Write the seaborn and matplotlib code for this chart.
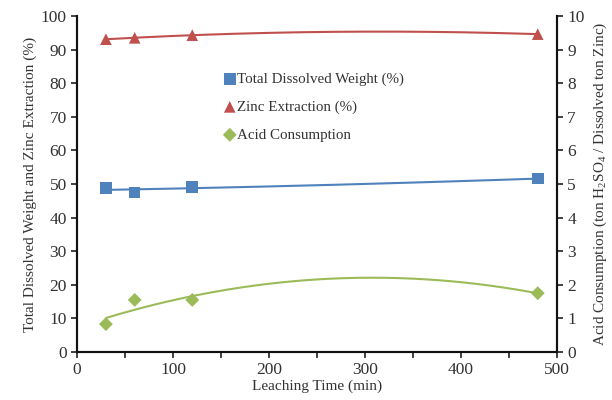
import numpy as np
import pandas as pd
import matplotlib
matplotlib.use("Agg")
import matplotlib.pyplot as plt
import seaborn as sns
from matplotlib.ticker import MultipleLocator

time_min = [30, 60, 120, 480]
dissolved_weight = [48.8, 47.5, 49.1, 51.6]
zinc_extraction = [93.1, 93.5, 94.3, 94.6]
acid_consumption = [0.83, 1.55, 1.55, 1.75]

sns.set_style("ticks")
plt.rcParams['font.family'] = ['Liberation Serif', 'DejaVu Serif']
plt.rcParams['mathtext.fontset'] = 'custom'
plt.rcParams['mathtext.rm'] = 'Liberation Serif'
plt.rcParams['mathtext.it'] = 'Liberation Serif:italic'

blue = '#4F81BD'
red = '#C0504D'
green = '#9BBB59'

df = pd.DataFrame({'t': time_min, 'w': dissolved_weight, 'z': zinc_extraction, 'a': acid_consumption})

fig = plt.figure(figsize=(6.12, 4.0), dpi=100)
ax = fig.add_axes([0.126, 0.12, 0.784, 0.84])
ax2 = ax.twinx()

def trend(x, y):
    c = np.polyfit(x, y, 2)
    xs = np.linspace(min(x), max(x), 200)
    return xs, np.polyval(c, xs)

xs, ys = trend(df.t, df.w)
sns.lineplot(x=xs, y=ys, ax=ax, color=blue, lw=1.5, legend=False)
xs, ys = trend(df.t, df.z)
sns.lineplot(x=xs, y=ys, ax=ax, color=red, lw=1.5, legend=False)
xs, ys = trend(df.t, df.a)
sns.lineplot(x=xs, y=ys, ax=ax2, color=green, lw=1.5, legend=False)

sns.scatterplot(data=df, x='t', y='w', ax=ax, marker='s', color=blue, s=70, edgecolor='none', label='Total Dissolved Weight (%)', legend=False)
sns.scatterplot(data=df, x='t', y='z', ax=ax, marker='^', color=red, s=70, edgecolor='none', label='Zinc Extraction (%)', legend=False)
sns.scatterplot(data=df, x='t', y='a', ax=ax2, marker='D', color=green, s=50, edgecolor='none', label='Acid Consumption', legend=False)

ax.set_xlim(0, 500)
ax.set_ylim(0, 100)
ax2.set_ylim(0, 10)
ax.xaxis.set_major_locator(MultipleLocator(100))
ax.xaxis.set_minor_locator(MultipleLocator(50))
ax.yaxis.set_major_locator(MultipleLocator(10))
ax2.yaxis.set_major_locator(MultipleLocator(1))

for a in (ax, ax2):
    a.tick_params(axis='both', which='both', direction='out', length=4, width=1.2, labelsize=12.5, colors='#222222', labelcolor='#333333')
    for s in a.spines.values():
        s.set_linewidth(1.5)
        s.set_color('#111111')
ax.spines['top'].set_visible(False)
ax2.spines['top'].set_visible(False)

ax.set_xlabel('Leaching Time (min)', fontsize=11, color='#333333', labelpad=1)
ax.set_ylabel('Total Dissolved Weight and Zinc Extraction (%)', fontsize=11, color='#333333', labelpad=3)
ax2.set_ylabel('Acid Consumption (ton H$_2$SO$_4$ / Dissolved ton Zinc)', fontsize=11, color='#333333', labelpad=5)

h1, l1 = ax.get_legend_handles_labels()
h2, l2 = ax2.get_legend_handles_labels()
leg = ax.legend(h1 + h2, l1 + l2, loc='upper left', bbox_to_anchor=(0.29, 0.85), frameon=False,
                fontsize=10.8, handletextpad=0.0, labelspacing=0.95, handlelength=1.0, borderaxespad=0)
for t in leg.get_texts():
    t.set_color('#333333')

fig.savefig('out.png', dpi=100)
